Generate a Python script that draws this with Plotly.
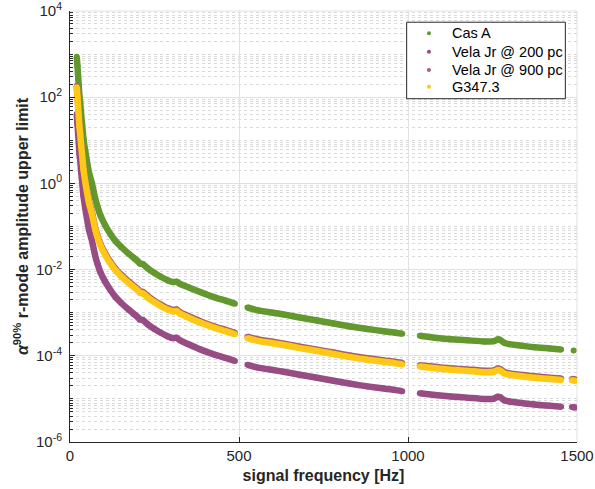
import plotly.graph_objects as go

# ---------------- data ----------------
freq_casa = [20, 22, 24, 26, 28, 30, 33, 36, 40, 45, 50, 56, 65, 74, 81, 90, 104, 120, 135, 151,
             175, 200, 207, 215, 230, 250, 267, 290, 305, 315, 325, 350, 385, 430, 460, 488,
             505,
             525, 560, 600, 632, 680, 731, 780, 830, 880, 929, 960, 983,
             1010,
             1035, 1080, 1127, 1175, 1225, 1255, 1265, 1272, 1285, 1300, 1340, 1374, 1420, 1453,
             1470,
             1490]
alpha_casa = [871, 525, 316, 182, 105, 75.9, 39.8, 22.4, 10.7, 5.75, 3.31, 1.82, 1.00, 0.468, 0.295,
              0.182, 0.107, 0.0661, 0.0457, 0.0339, 0.0229, 0.0158, 0.0138, 0.0135, 0.0107,
              8.32e-3, 6.92e-3, 5.62e-3, 5.13e-3, 5.25e-3, 4.68e-3, 3.89e-3, 3.02e-3, 2.24e-3,
              1.91e-3, 1.62e-3,
              None,
              1.32e-3, 1.12e-3, 1.00e-3, 9.12e-4, 7.76e-4, 6.61e-4, 5.62e-4, 4.79e-4, 4.17e-4,
              3.72e-4, 3.47e-4, 3.24e-4,
              None,
              2.92e-4, 2.63e-4, 2.43e-4, 2.29e-4, 2.15e-4, 2.19e-4, 2.40e-4, 2.36e-4, 2.00e-4,
              1.86e-4, 1.70e-4, 1.58e-4, 1.48e-4, 1.40e-4,
              None,
              1.33e-4]

freq_other = [20, 22, 24, 26, 28, 30, 33, 36, 40, 45, 50, 56, 65, 74, 81, 90, 104, 120, 135, 151,
              175, 200, 207, 215, 230, 250, 267, 290, 305, 315, 325, 350, 385, 430, 460, 488,
              505,
              525, 560, 600, 632, 680, 731, 780, 830, 880, 929, 960, 983,
              1010,
              1035, 1080, 1127, 1175, 1225, 1255, 1265, 1272, 1285, 1300, 1340, 1374, 1420, 1453,
              1470,
              1485, 1495]

alpha_vela200 = [40.7, 24.5, 14.8, 8.51, 4.90, 3.55, 1.86, 1.05, 0.501, 0.269, 0.155, 0.0851,
                 0.0468, 0.0219, 0.0138, 8.71e-3, 5.25e-3, 3.31e-3, 2.29e-3, 1.70e-3, 1.15e-3,
                 7.94e-4, 6.92e-4, 6.76e-4, 5.37e-4, 4.17e-4, 3.47e-4, 2.82e-4, 2.57e-4, 2.63e-4,
                 2.29e-4, 1.86e-4, 1.41e-4, 1.05e-4, 8.91e-5, 7.59e-5,
                 None,
                 6.17e-5, 5.25e-5, 4.68e-5, 4.27e-5, 3.63e-5, 3.09e-5, 2.63e-5, 2.24e-5, 1.95e-5,
                 1.74e-5, 1.62e-5, 1.51e-5,
                 None,
                 1.35e-5, 1.23e-5, 1.135e-5, 1.07e-5, 1.00e-5, 1.02e-5, 1.12e-5, 1.10e-5, 9.33e-6,
                 8.71e-6, 7.94e-6, 7.41e-6, 6.92e-6, 6.61e-6,
                 None,
                 6.46e-6, 6.31e-6]

alpha_vela900 = [184, 110, 66.7, 38.4, 22.0, 16.0, 8.38, 4.72, 2.26, 1.21, 0.698, 0.383, 0.211,
                 0.0985, 0.0621, 0.0392, 0.0237, 0.0149, 0.0103, 7.65e-3, 5.17e-3, 3.57e-3,
                 3.11e-3, 3.05e-3, 2.42e-3, 1.88e-3, 1.57e-3, 1.26e-3, 1.16e-3, 1.19e-3, 1.03e-3,
                 8.38e-4, 6.36e-4, 4.72e-4, 4.02e-4, 3.41e-4,
                 None,
                 2.78e-4, 2.37e-4, 2.11e-4, 1.92e-4, 1.63e-4, 1.39e-4, 1.19e-4, 1.01e-4, 8.78e-5,
                 7.82e-5, 7.30e-5, 6.81e-5,
                 None,
                 6.07e-5, 5.54e-5, 5.11e-5, 4.83e-5, 4.50e-5, 4.61e-5, 5.05e-5, 4.95e-5, 4.20e-5,
                 3.92e-5, 3.57e-5, 3.34e-5, 3.11e-5, 2.97e-5,
                 None,
                 2.91e-5, 2.84e-5]

alpha_g347 = [170, 102, 61.7, 35.5, 20.4, 14.8, 7.76, 4.37, 2.09, 1.12, 0.646, 0.355, 0.195,
              0.0912, 0.0575, 0.0363, 0.0219, 0.0138, 9.55e-3, 7.08e-3, 4.79e-3, 3.31e-3,
              2.88e-3, 2.82e-3, 2.24e-3, 1.74e-3, 1.45e-3, 1.17e-3, 1.07e-3, 1.10e-3, 9.55e-4,
              7.76e-4, 5.89e-4, 4.37e-4, 3.72e-4, 3.16e-4,
              None,
              2.57e-4, 2.19e-4, 1.95e-4, 1.78e-4, 1.51e-4, 1.29e-4, 1.10e-4, 9.33e-5, 8.13e-5,
              7.24e-5, 6.76e-5, 6.31e-5,
              None,
              5.62e-5, 5.13e-5, 4.73e-5, 4.47e-5, 4.17e-5, 4.27e-5, 4.68e-5, 4.58e-5, 3.89e-5,
              3.63e-5, 3.31e-5, 3.09e-5, 2.88e-5, 2.75e-5,
              None,
              2.69e-5, 2.63e-5]

series_names = ["Cas A", "Vela Jr @ 200 pc", "Vela Jr @ 900 pc", "G347.3"]
x_ticks = [0, 500, 1000, 1500]
y_tick_vals = [1e-6, 1e-4, 1e-2, 1e0, 1e2, 1e4]
y_tick_text = ["10<sup>-6</sup>", "10<sup>-4</sup>", "10<sup>-2</sup>",
               "10<sup>0</sup>", "10<sup>2</sup>", "10<sup>4</sup>"]

# ---------------- styling ----------------
colors = ["#63982f", "#974c84", "#a2606e", "#ffc815"]
series = [(freq_casa, alpha_casa), (freq_other, alpha_vela200),
          (freq_other, alpha_vela900), (freq_other, alpha_g347)]

fig = go.Figure()
for name, col, (fx, ay) in zip(series_names, colors, series):
    fig.add_trace(go.Scatter(x=fx, y=ay, mode="lines",
                             line=dict(color=col, width=6.5, shape="spline", smoothing=0.6),
                             connectgaps=False, showlegend=False, hoverinfo="skip"))
    fig.add_trace(go.Scatter(x=fx, y=ay, mode="markers", name=name, showlegend=False,
                             marker=dict(color=col, size=6, line=dict(width=0))))

minor_vals = []
for e in range(-6, 4):
    for k in range(1, 10):
        if k == 1 and e % 2 == 0:
            continue
        minor_vals.append(k * 10.0 ** e)

axis_col = "#262626"

# legend box drawn in paper coordinates (shapes + text annotations)
leg_x0, leg_x1, leg_y0, leg_y1 = 0.664, 0.977, 0.7965, 0.974
leg_dot_x, leg_txt_x = 0.708, 0.7495
leg_rows = [0.9483, 0.9056, 0.8631, 0.8244]
dot_rx, dot_ry = 0.0040, 0.0047

shapes = [
    dict(type="line", xref="paper", yref="paper", x0=0, x1=1, y0=1, y1=1,
         line=dict(color="#e1e1e1", width=1), layer="below"),
    dict(type="line", xref="paper", yref="paper", x0=1, x1=1, y0=0, y1=1,
         line=dict(color="#e1e1e1", width=1), layer="below"),
    dict(type="rect", xref="paper", yref="paper", x0=leg_x0, x1=leg_x1, y0=leg_y0, y1=leg_y1,
         line=dict(color=axis_col, width=1), fillcolor="white", layer="above"),
]
annotations = []
for name, col, ry in zip(series_names, colors, leg_rows):
    shapes.append(dict(type="circle", xref="paper", yref="paper",
                       x0=leg_dot_x - dot_rx, x1=leg_dot_x + dot_rx,
                       y0=ry - dot_ry, y1=ry + dot_ry,
                       fillcolor=col, line=dict(width=0), layer="above"))
    annotations.append(dict(text=name, xref="paper", yref="paper", x=leg_txt_x, y=ry,
                            xanchor="left", yanchor="middle", showarrow=False,
                            font=dict(size=14.5, color="black")))

fig.update_layout(
    width=595, height=489, autosize=False,
    margin=dict(l=70, r=18, t=11, b=47),
    paper_bgcolor="white", plot_bgcolor="white",
    font=dict(family="Liberation Sans, Arial, sans-serif", color=axis_col),
    showlegend=False,
    xaxis=dict(range=[0, 1500], tickvals=x_ticks, ticks="inside", ticklen=5, tickcolor=axis_col,
               showline=True, linecolor=axis_col, linewidth=1, mirror=False,
               showgrid=True, gridcolor="#e1e1e1", gridwidth=1, zeroline=False, automargin=False,
               tickfont=dict(size=15, color=axis_col), ticklabeloverflow="allow",
               title=dict(text="<b>signal frequency [Hz]</b>", font=dict(size=16, color=axis_col), standoff=6)),
    yaxis=dict(type="log", range=[-6.0001, 4.0001], tickvals=y_tick_vals, ticktext=y_tick_text,
               ticks="inside", ticklen=5, tickcolor=axis_col, automargin=False,
               showline=True, linecolor=axis_col, linewidth=1, mirror=False,
               showgrid=True, gridcolor="#e1e1e1", gridwidth=1, zeroline=False,
               tickfont=dict(size=15, color=axis_col), ticklabelstandoff=4, ticklabeloverflow="allow",
               minor=dict(tickvals=minor_vals, ticks="inside", ticklen=3, tickcolor=axis_col,
                          showgrid=True, gridcolor="#dadada", griddash="dot", gridwidth=1),
               title=dict(text="<b><i>α</i><sup>90%</sup> r-mode amplitude upper limit</b>",
                          font=dict(size=16, color=axis_col), standoff=3)),
    shapes=shapes,
    annotations=annotations,
)

fig.write_html("out.html", config={"displayModeBar": False},
               post_script="document.body.style.margin='0px';")
